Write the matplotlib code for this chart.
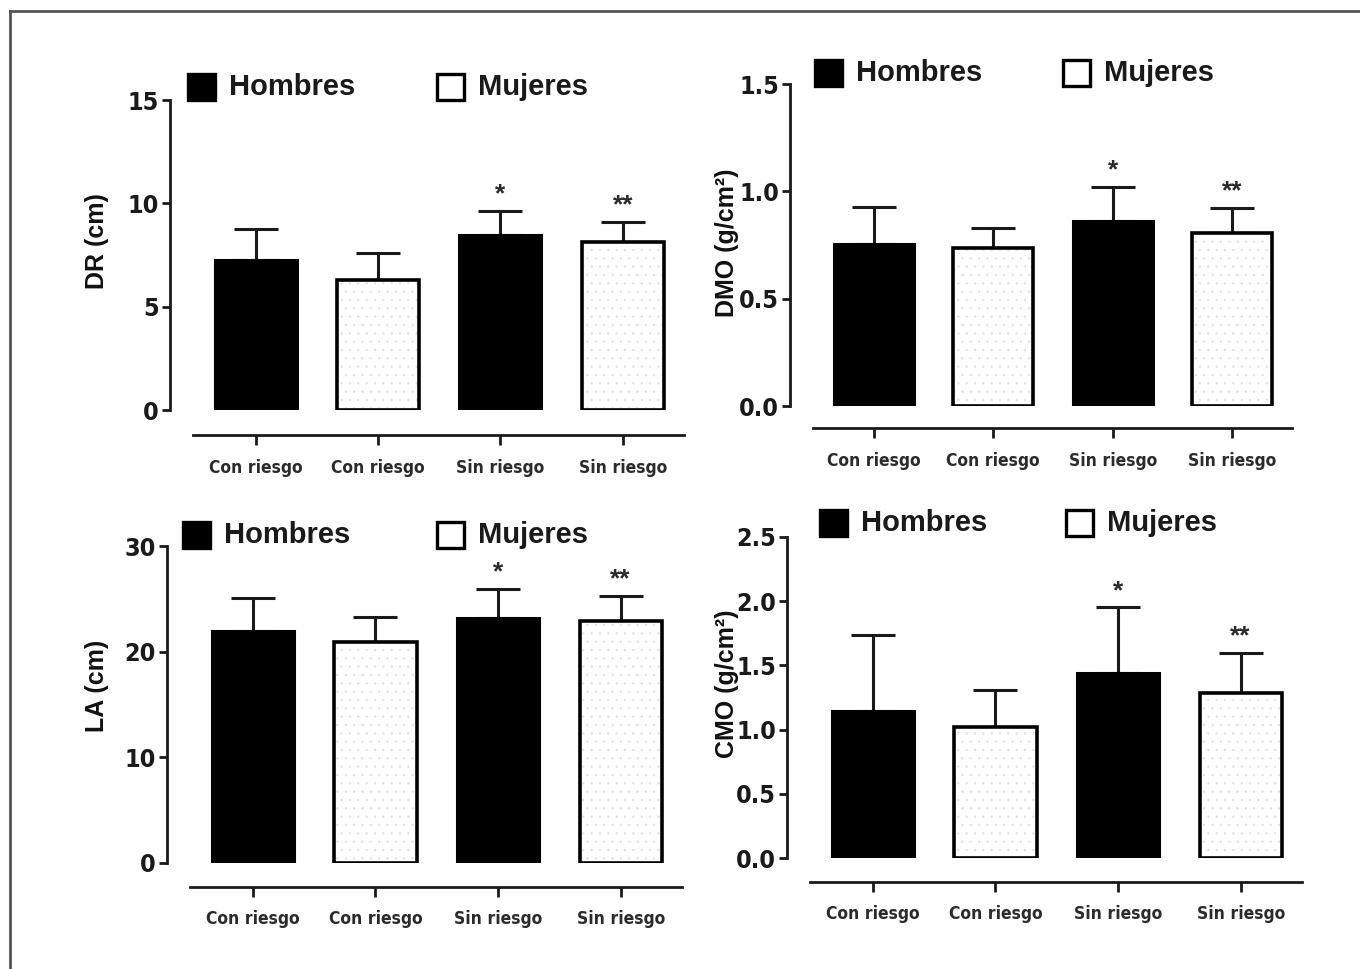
import matplotlib
matplotlib.use('Agg')
import matplotlib.pyplot as plt
from matplotlib.patches import Rectangle
from matplotlib.lines import Line2D

W, H = 1360, 969

# ── Data ─────────────────────────────────────────────────────────────────
categories = ['Con riesgo', 'Con riesgo', 'Sin riesgo', 'Sin riesgo']
is_male = [True, False, True, False]
signif = ['', '', '*', '**']

dr_mean = [7.25, 6.27, 8.47, 8.13]
dr_sd = [1.50, 1.33, 1.15, 0.97]

dmo_mean = [0.755, 0.734, 0.864, 0.807]
dmo_sd = [0.174, 0.094, 0.155, 0.116]

la_mean = [21.95, 20.88, 23.2, 22.9]
la_sd = [3.15, 2.36, 2.74, 2.33]

cmo_mean = [1.148, 1.023, 1.443, 1.288]
cmo_sd = [0.585, 0.285, 0.508, 0.310]

NARROW = ['Liberation Sans Narrow', 'DejaVu Sans']
BOLD = ['Liberation Sans', 'DejaVu Sans']
plt.rcParams['hatch.linewidth'] = 0.5

fig = plt.figure(figsize=(W / 100, H / 100), dpi=100)


def fx(x):
    return x / W


def fy(y):
    return 1 - y / H


def panel(spine_x, right_x, top_y, zero_y, ymax, step, fmt, means, sds,
          ylabel, ylabel_pos, legend_y, legend_x, line_off):
    ax = fig.add_axes([fx(spine_x), fy(zero_y), fx(right_x - spine_x),
                       (zero_y - top_y) / H])
    # detach the category axis first (set_position resets the ticks)
    for side in ['top', 'right']:
        ax.spines[side].set_visible(False)
    ax.spines['bottom'].set_position(('outward', line_off))
    ax.set_xlim(-0.70, 3.50)
    ax.set_ylim(0, ymax)
    ax.spines['bottom'].set_bounds(-0.51, 3.50)
    for side in ['left', 'bottom']:
        ax.spines[side].set_linewidth(2)
        ax.spines[side].set_color('#1a1a1a')
    ax.patch.set_visible(False)

    x = list(range(len(means)))
    for i, (m, s) in enumerate(zip(means, sds)):
        if is_male[i]:
            ax.bar(i, m, width=0.67, color='black', edgecolor='black',
                   linewidth=2.2, zorder=2)
        else:
            ax.bar(i, m, width=0.67, color='white', edgecolor='#e2e2e2',
                   hatch='..', linewidth=0, zorder=2)
            ax.bar(i, m, width=0.67, fill=False, edgecolor='black',
                   linewidth=2.6, zorder=3)
        ax.errorbar(i, m, yerr=[[0], [s]], color='#1a1a1a', elinewidth=2.2,
                    capsize=16, capthick=2.2, zorder=1)
        if signif[i]:
            ax.annotate(signif[i], (i, m + s), xytext=(0, 12),
                        textcoords='offset points', ha='center', va='center',
                        fontsize=19, fontweight='bold', color='#2a2a2a',
                        family=BOLD)

    ticks = [k * step for k in range(int(round(ymax / step)) + 1)]
    ax.set_yticks(ticks)
    ax.set_yticklabels([fmt.format(t) for t in ticks])
    for lab in ax.get_yticklabels():
        lab.set_family(NARROW)
        lab.set_fontstretch('condensed')
        lab.set_fontweight('bold')
        lab.set_fontsize(18)
        lab.set_color('#1a1a1a')
    ax.tick_params(axis='y', length=6, width=2, pad=2, color='#1a1a1a')

    ax.set_xticks(x)
    ax.set_xticklabels(categories)
    for lab in ax.get_xticklabels():
        lab.set_family(NARROW)
        lab.set_fontstretch('condensed')
        lab.set_fontweight('bold')
        lab.set_fontsize(12.5)
        lab.set_color('#2b2b2b')
    ax.tick_params(axis='x', length=7, width=2, pad=10, color='#1a1a1a')

    fig.text(fx(ylabel_pos[0]), fy(ylabel_pos[1]), ylabel,
             rotation=90, ha='center', va='center', fontsize=18,
             fontweight='bold', family=BOLD, color='#111111')

    # legend
    for lx, lab, male in [(legend_x[0], 'Hombres', True),
                          (legend_x[1], 'Mujeres', False)]:
        fig.patches.append(Rectangle(
            (fx(lx), fy(legend_y + 13)), 27 / W, 26 / H,
            transform=fig.transFigure, facecolor='black' if male else 'white',
            edgecolor='black', linewidth=2.4))
        fig.text(fx(lx + 41), fy(legend_y), lab, ha='left', va='center',
                 fontsize=21, fontweight='bold', family=BOLD, color='#1a1a1a')
    return ax


panel(170, 684, 100, 410, 15, 5, '{:g}', dr_mean, dr_sd,
      'DR (cm)', (97, 241), 87, (188, 437), 18)
panel(790, 1292, 84, 406, 1.5, 0.5, '{:.1f}', dmo_mean, dmo_sd,
      'DMO (g/cm²)', (727, 243), 73, (815, 1063), 16)
panel(167, 682, 546, 863, 30, 10, '{:g}', la_mean, la_sd,
      'LA (cm)', (97, 686), 535, (183, 437), 17)
panel(787, 1302, 537, 858, 2.5, 0.5, '{:.1f}', cmo_mean, cmo_sd,
      'CMO (g/cm²)', (727, 684), 523, (820, 1066), 17)

# outer frame (only top and left visible in the crop)
fig.lines.append(Line2D([fx(10), fx(10)], [fy(11), 0], transform=fig.transFigure,
                        color='#555555', linewidth=2))
fig.lines.append(Line2D([fx(10), 1], [fy(11), fy(11)], transform=fig.transFigure,
                        color='#555555', linewidth=2))

fig.savefig('out.png', dpi=100)
